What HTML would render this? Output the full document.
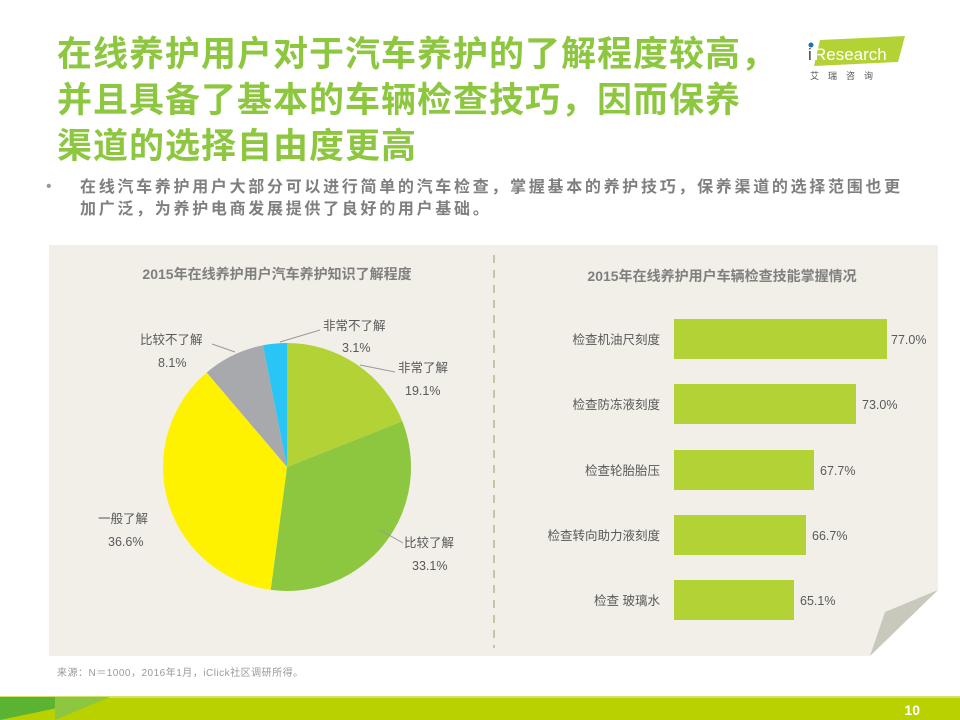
<!DOCTYPE html>
<html><head><meta charset="utf-8"><style>
body{margin:0;width:960px;height:720px;position:relative;background:#fff;font-family:"Liberation Sans","Noto Sans CJK SC",sans-serif;overflow:hidden}
.t{position:absolute;left:57px;top:32px;font-size:35px;font-weight:bold;color:#8dc63f;line-height:46px;letter-spacing:1px}
.b{position:absolute;left:80px;top:177px;font-size:16px;font-weight:bold;color:#7f7f7f;line-height:22px;width:835px;letter-spacing:2.7px}
.dot{position:absolute;left:46px;top:178px;color:#999;font-size:16px}
svg{position:absolute;left:0;top:0}
</style></head><body>
<div class="t">在线养护用户对于汽车养护的了解程度较高，<br>并且具备了基本的车辆检查技巧，因而保养<br>渠道的选择自由度更高</div>
<div class="dot">•</div>
<div class="b">在线汽车养护用户大部分可以进行简单的汽车检查，掌握基本的养护技巧，保养渠道的选择范围也更加广泛，为养护电商发展提供了良好的用户基础。</div>
<svg width="960" height="720" font-family="Liberation Sans, Noto Sans CJK SC, sans-serif">
<polygon points="820,40 905,36 898,62 814,66" fill="#b3d235"/>
<circle cx="811" cy="45" r="2.5" fill="#1f6fb5"/>
<text x="808" y="60" font-size="17" fill="#444">i</text>
<text x="814" y="60" font-size="17" fill="#fff">Research</text>
<text x="810" y="79" font-size="9" fill="#555" letter-spacing="9">艾瑞咨询</text>
<polygon points="49,245 938,245 938,590 870,656 49,656" fill="#f1efe8"/>
<polygon points="870,656 938,590 885,612" fill="#c9c8bd"/>
<line x1="494" y1="255" x2="494" y2="648" stroke="#c8c3a8" stroke-width="2" stroke-dasharray="8,7"/>
<text x="277" y="279" font-size="14" font-weight="bold" fill="#7f7f7f" text-anchor="middle">2015年在线养护用户汽车养护知识了解程度</text>
<text x="722" y="281" font-size="14" font-weight="bold" fill="#7f7f7f" text-anchor="middle">2015年在线养护用户车辆检查技能掌握情况</text>
<g transform="translate(287,467)">
<path d="M0,0 L0,-124 A124,124 0 0 1 115.3,-45.7 Z" fill="#b3d235"/>
<path d="M0,0 L115.3,-45.7 A124,124 0 0 1 -16.3,122.9 Z" fill="#8dc63f"/>
<path d="M0,0 L-16.3,122.9 A124,124 0 0 1 -80.3,-94.5 Z" fill="#fff200"/>
<path d="M0,0 L-80.3,-94.5 A124,124 0 0 1 -24,-121.7 Z" fill="#a7a9ac"/>
<path d="M0,0 L-24,-121.7 A124,124 0 0 1 0,-124 Z" fill="#29c5f6"/>
</g>
<g font-size="12.5" fill="#595959">
<text x="323" y="330">非常不了解</text><text x="342" y="352">3.1%</text>
<text x="398" y="372">非常了解</text><text x="405" y="395">19.1%</text>
<text x="404" y="547">比较了解</text><text x="412" y="570">33.1%</text>
<text x="98" y="523">一般了解</text><text x="108" y="546">36.6%</text>
<text x="140" y="344">比较不了解</text><text x="158" y="367">8.1%</text>
</g>
<polyline points="280,342 320,330" stroke="#999" fill="none"/>
<polyline points="360,365 395,372" stroke="#999" fill="none"/>
<polyline points="380,530 403,543" stroke="#999" fill="none"/>
<polyline points="212,344 235,352" stroke="#999" fill="none"/>
<g fill="#b3d235">
<rect x="674" y="319" width="213" height="40"/>
<rect x="674" y="384" width="182" height="40"/>
<rect x="674" y="450" width="140" height="40"/>
<rect x="674" y="515" width="132" height="40"/>
<rect x="674" y="580" width="120" height="40"/>
</g>
<g font-size="12.5" fill="#595959">
<text x="660" y="344" text-anchor="end">检查机油尺刻度</text><text x="891" y="344">77.0%</text>
<text x="660" y="409" text-anchor="end">检查防冻液刻度</text><text x="862" y="409">73.0%</text>
<text x="660" y="475" text-anchor="end">检查轮胎胎压</text><text x="820" y="475">67.7%</text>
<text x="660" y="540" text-anchor="end">检查转向助力液刻度</text><text x="812" y="540">66.7%</text>
<text x="660" y="605" text-anchor="end">检查 玻璃水</text><text x="800" y="605">65.1%</text>
</g>
<text x="57" y="676" font-size="10" fill="#999" letter-spacing="0.5">来源：N＝1000，2016年1月，iClick社区调研所得。</text>
<rect x="0" y="697" width="960" height="23" fill="#bad100"/>
<rect x="0" y="696" width="960" height="2" fill="#d4e06a"/>
<polygon points="0,697 110,697 0,720" fill="#5bb431"/>
<polygon points="55,697 110,697 55,720" fill="#8dc63f"/>
<text x="920" y="715" font-size="14" font-weight="bold" fill="#fff" text-anchor="end">10</text>
</svg>
</body></html>
